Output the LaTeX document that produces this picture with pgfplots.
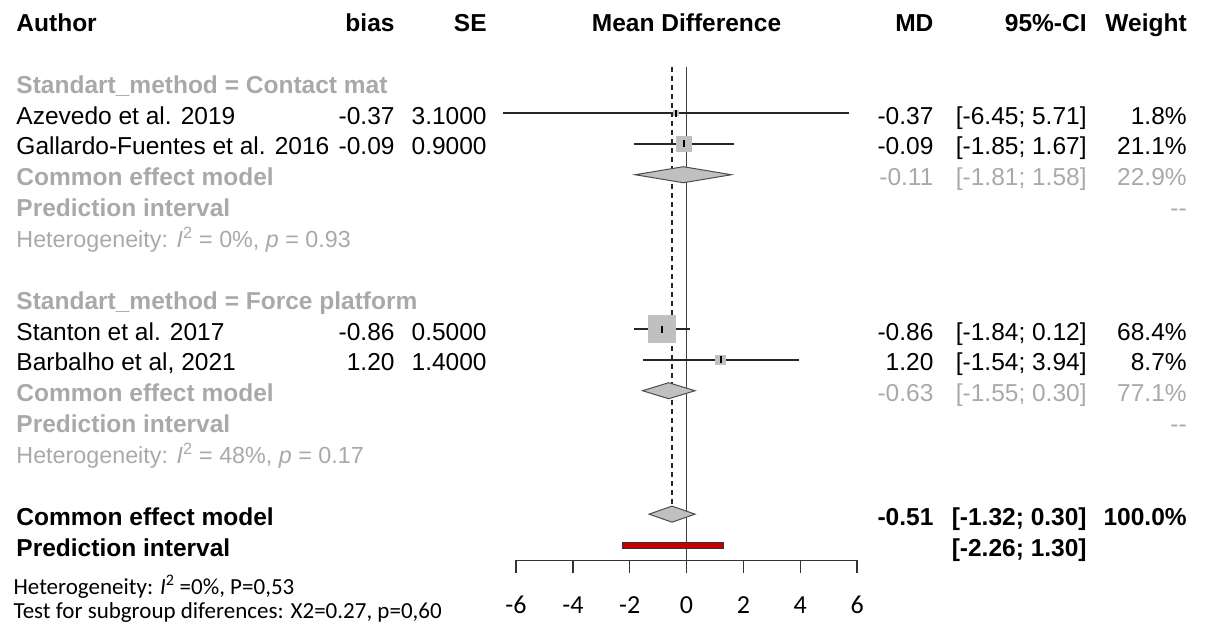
\documentclass[border=0pt]{standalone}
\usepackage{pgfplots}
\pgfplotsset{compat=1.18}
\usepackage{fontspec}
\setmainfont{Liberation Sans}
\newfontfamily\calibri{Carlito}
\definecolor{sub}{RGB}{169,169,169}
\definecolor{sq}{RGB}{192,192,192}
\definecolor{pired}{RGB}{200,0,0}
\newcommand\rowfont{\fontsize{24.5}{29}\selectfont}
\newcommand\hetfont{\fontsize{23.3}{27}\selectfont}
% column positions (data units)
\def\xA{-23.70}
\def\xB{-10.15}
\def\xS{-6.91}
\def\xM{8.81}
\def\xC{14.20}
\def\xW{17.72}
\begin{document}
\begin{tikzpicture}
\begin{axis}[
  scale only axis, width=341pt, height=560.3pt,
  xmin=-6, xmax=6, ymin=-15.5, ymax=2.663,
  axis x line=bottom, axis y line=none,
  axis line style={black!80, line width=1.3pt, -},
  xtick={-6,-4,-2,0,2,4,6},
  xticklabels={-6,-4,-2,0,2,4,6},
  tick align=outside, major tick length=13pt,
  tick style={black!80, line width=1.3pt},
  xticklabel style={font=\calibri\fontsize{26}{30}\selectfont, anchor=base, yshift=-40pt},
  clip=false,
  every node/.append style={inner sep=0pt},
]
% reference lines
\addplot[black!75, line width=1.3pt] coordinates {(0,0.5) (0,-15.5)};
\addplot[black!85, line width=1.2pt, dash pattern=on 5pt off 4pt] coordinates {(-0.51,0.5) (-0.51,-13.74)};
% study squares (area ~ weight)
\addplot[sq, only marks, mark=square*, mark size=2.2pt, mark options={draw=sq, fill=sq, line width=0pt}] coordinates {(-0.37,-1)};
\addplot[sq, only marks, mark=square*, mark size=7.5pt, mark options={draw=sq, fill=sq, line width=0pt}] coordinates {(-0.09,-2)};
\addplot[sq, only marks, mark=square*, mark size=13.5pt, mark options={draw=sq, fill=sq, line width=0pt}] coordinates {(-0.86,-8)};
\addplot[sq, only marks, mark=square*, mark size=4.8pt, mark options={draw=sq, fill=sq, line width=0pt}] coordinates {(1.20,-9)};
% confidence intervals
\addplot[black!85, line width=1.3pt] coordinates {(-6.45,-1) (5.71,-1)};
\addplot[black!85, line width=1.3pt] coordinates {(-1.85,-2) (1.67,-2)};
\addplot[black!85, line width=1.3pt] coordinates {(-1.84,-8) (0.12,-8)};
\addplot[black!85, line width=1.3pt] coordinates {(-1.54,-9) (3.94,-9)};
\addplot[black, only marks, mark=|, mark size=3.5pt, mark options={black, line width=1.8pt}] coordinates {(-0.37,-1) (-0.09,-2) (-0.86,-8) (1.20,-9)};
% diamonds
\addplot[fill=sq, draw=black!70, line width=1pt] coordinates {(-1.81,-3) (-0.11,-2.74) (1.58,-3) (-0.11,-3.26)} -- cycle;
\addplot[fill=sq, draw=black!70, line width=1pt] coordinates {(-1.55,-10) (-0.63,-9.74) (0.30,-10) (-0.63,-10.26)} -- cycle;
\addplot[fill=sq, draw=black!70, line width=1pt] coordinates {(-1.32,-14) (-0.51,-13.74) (0.30,-14) (-0.51,-14.26)} -- cycle;
% prediction interval
\addplot[fill=pired, draw=black!80, line width=0.8pt] coordinates {(-2.26,-14.9) (1.30,-14.9) (1.30,-15.1) (-2.26,-15.1)} -- cycle;

% header
\node[anchor=base west, font=\rowfont\bfseries] at (axis cs:\xA,1.64) {Author};
\node[anchor=base east, font=\rowfont\bfseries] at (axis cs:\xB,1.64) {bias};
\node[anchor=base east, font=\rowfont\bfseries] at (axis cs:\xS,1.64) {SE};
\node[anchor=base, font=\rowfont\bfseries] at (axis cs:0,1.64) {Mean Difference};
\node[anchor=base east, font=\rowfont\bfseries] at (axis cs:\xM,1.64) {MD};
\node[anchor=base east, font=\rowfont\bfseries] at (axis cs:\xC,1.64) {95\%-CI};
\node[anchor=base east, font=\rowfont\bfseries] at (axis cs:\xW,1.64) {Weight};

% subgroup 1
\node[anchor=base west, font=\rowfont\bfseries, text=sub] at (axis cs:\xA,-0.36) {Standart\_method = Contact mat};
\node[anchor=base west, font=\rowfont] at (axis cs:\xA,-1.36) {Azevedo et al. 2019};
\node[anchor=base east, font=\rowfont] at (axis cs:\xB,-1.36) {-0.37};
\node[anchor=base east, font=\rowfont] at (axis cs:\xS,-1.36) {3.1000};
\node[anchor=base east, font=\rowfont] at (axis cs:\xM,-1.36) {-0.37};
\node[anchor=base east, font=\rowfont] at (axis cs:\xC,-1.36) {[-6.45; 5.71]};
\node[anchor=base east, font=\rowfont] at (axis cs:\xW,-1.36) {1.8\%};
\node[anchor=base west, font=\rowfont] at (axis cs:\xA,-2.36) {Gallardo-Fuentes et al. 2016};
\node[anchor=base east, font=\rowfont] at (axis cs:\xB,-2.36) {-0.09};
\node[anchor=base east, font=\rowfont] at (axis cs:\xS,-2.36) {0.9000};
\node[anchor=base east, font=\rowfont] at (axis cs:\xM,-2.36) {-0.09};
\node[anchor=base east, font=\rowfont] at (axis cs:\xC,-2.36) {[-1.85; 1.67]};
\node[anchor=base east, font=\rowfont] at (axis cs:\xW,-2.36) {21.1\%};
\node[anchor=base west, font=\rowfont\bfseries, text=sub] at (axis cs:\xA,-3.36) {Common effect model};
\node[anchor=base east, font=\rowfont, text=sub] at (axis cs:\xM,-3.36) {-0.11};
\node[anchor=base east, font=\rowfont, text=sub] at (axis cs:\xC,-3.36) {[-1.81; 1.58]};
\node[anchor=base east, font=\rowfont, text=sub] at (axis cs:\xW,-3.36) {22.9\%};
\node[anchor=base west, font=\rowfont\bfseries, text=sub] at (axis cs:\xA,-4.36) {Prediction interval};
\node[anchor=base east, font=\rowfont, text=sub] at (axis cs:\xW,-4.36) {-{}-};
\node[anchor=base west, font=\hetfont, text=sub] at (axis cs:\xA,-5.36) {Heterogeneity: \textit{I}\textsuperscript{2} = 0\%, \textit{p} = 0.93};

% subgroup 2
\node[anchor=base west, font=\rowfont\bfseries, text=sub] at (axis cs:\xA,-7.36) {Standart\_method = Force platform};
\node[anchor=base west, font=\rowfont] at (axis cs:\xA,-8.36) {Stanton et al. 2017};
\node[anchor=base east, font=\rowfont] at (axis cs:\xB,-8.36) {-0.86};
\node[anchor=base east, font=\rowfont] at (axis cs:\xS,-8.36) {0.5000};
\node[anchor=base east, font=\rowfont] at (axis cs:\xM,-8.36) {-0.86};
\node[anchor=base east, font=\rowfont] at (axis cs:\xC,-8.36) {[-1.84; 0.12]};
\node[anchor=base east, font=\rowfont] at (axis cs:\xW,-8.36) {68.4\%};
\node[anchor=base west, font=\rowfont] at (axis cs:\xA,-9.36) {Barbalho et al, 2021};
\node[anchor=base east, font=\rowfont] at (axis cs:\xB,-9.36) {1.20};
\node[anchor=base east, font=\rowfont] at (axis cs:\xS,-9.36) {1.4000};
\node[anchor=base east, font=\rowfont] at (axis cs:\xM,-9.36) {1.20};
\node[anchor=base east, font=\rowfont] at (axis cs:\xC,-9.36) {[-1.54; 3.94]};
\node[anchor=base east, font=\rowfont] at (axis cs:\xW,-9.36) {8.7\%};
\node[anchor=base west, font=\rowfont\bfseries, text=sub] at (axis cs:\xA,-10.36) {Common effect model};
\node[anchor=base east, font=\rowfont, text=sub] at (axis cs:\xM,-10.36) {-0.63};
\node[anchor=base east, font=\rowfont, text=sub] at (axis cs:\xC,-10.36) {[-1.55; 0.30]};
\node[anchor=base east, font=\rowfont, text=sub] at (axis cs:\xW,-10.36) {77.1\%};
\node[anchor=base west, font=\rowfont\bfseries, text=sub] at (axis cs:\xA,-11.36) {Prediction interval};
\node[anchor=base east, font=\rowfont, text=sub] at (axis cs:\xW,-11.36) {-{}-};
\node[anchor=base west, font=\hetfont, text=sub] at (axis cs:\xA,-12.36) {Heterogeneity: \textit{I}\textsuperscript{2} = 48\%, \textit{p} = 0.17};

% overall
\node[anchor=base west, font=\rowfont\bfseries] at (axis cs:\xA,-14.36) {Common effect model};
\node[anchor=base east, font=\rowfont\bfseries] at (axis cs:\xM,-14.36) {-0.51};
\node[anchor=base east, font=\rowfont\bfseries] at (axis cs:\xC,-14.36) {[-1.32; 0.30]};
\node[anchor=base east, font=\rowfont\bfseries] at (axis cs:\xW,-14.36) {100.0\%};
\node[anchor=base west, font=\rowfont\bfseries] at (axis cs:\xA,-15.36) {Prediction interval};
\node[anchor=base east, font=\rowfont\bfseries] at (axis cs:\xC,-15.36) {[-2.26; 1.30]};

% footnotes
\node[anchor=base west, font=\calibri\fontsize{23}{27}\selectfont] at (axis cs:-23.80,-16.59) {Heterogeneity: \textit{I}\textsuperscript{2} =0\%, P=0,53};
\node[anchor=base west, font=\calibri\fontsize{23}{27}\selectfont] at (axis cs:-23.80,-17.37) {Test for subgroup diferences: X2=0.27, p=0,60};

\coordinate (BL) at (axis cs:-24.155,-17.69);
\coordinate (TR) at (axis cs:18.24,2.663);
\end{axis}
\pgfresetboundingbox
\path[use as bounding box] (BL) rectangle (TR);
\end{tikzpicture}
\end{document}
